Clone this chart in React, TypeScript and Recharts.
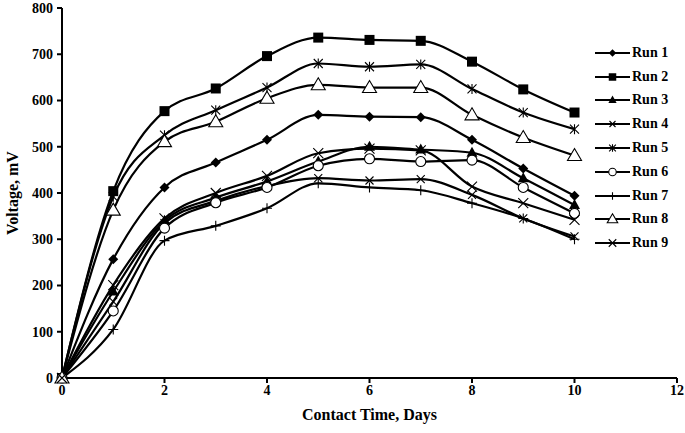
import React from "react";
import { LineChart, Line, XAxis, YAxis } from "recharts";

// Contact time (days) and measured voltage (mV) per run
const days = [0, 1, 2, 3, 4, 5, 6, 7, 8, 9, 10];
const run1 = [0, 257, 412, 466, 515, 569, 565, 564, 515, 453, 394];
const run2 = [0, 404, 577, 626, 696, 736, 731, 729, 684, 624, 574];
const run3 = [0, 187, 340, 390, 425, 468, 500, 494, 487, 432, 374];
const run4 = [0, 165, 335, 383, 415, 432, 427, 430, 396, 345, 306];
const run5 = [0, 392, 525, 579, 628, 680, 673, 678, 625, 574, 538];
const run6 = [0, 145, 324, 379, 412, 459, 474, 468, 471, 412, 356];
const run7 = [0, 105, 297, 329, 367, 421, 412, 406, 378, 345, 300];
const run8 = [0, 363, 511, 554, 605, 634, 628, 628, 569, 520, 481];
const run9 = [0, 201, 345, 400, 437, 486, 496, 492, 414, 378, 342];

const xTicks = [0, 2, 4, 6, 8, 10, 12];
const yTicks = [0, 100, 200, 300, 400, 500, 600, 700, 800];

type Shape =
  | "diamond"
  | "square"
  | "triangle"
  | "cross"
  | "star"
  | "circle"
  | "plus"
  | "openTriangle"
  | "x";

const runs: { key: string; name: string; values: number[]; shape: Shape }[] = [
  { key: "r1", name: "Run 1", values: run1, shape: "diamond" },
  { key: "r2", name: "Run 2", values: run2, shape: "square" },
  { key: "r3", name: "Run 3", values: run3, shape: "triangle" },
  { key: "r4", name: "Run 4", values: run4, shape: "cross" },
  { key: "r5", name: "Run 5", values: run5, shape: "star" },
  { key: "r6", name: "Run 6", values: run6, shape: "circle" },
  { key: "r7", name: "Run 7", values: run7, shape: "plus" },
  { key: "r8", name: "Run 8", values: run8, shape: "openTriangle" },
  { key: "r9", name: "Run 9", values: run9, shape: "x" },
];

const data = days.map((d, i) => {
  const row: Record<string, number> = { day: d };
  runs.forEach((r) => (row[r.key] = r.values[i]));
  return row;
});

const FONT = "'Liberation Serif', 'Times New Roman', serif";

function Marker({ shape, cx, cy, s = 1 }: { shape: Shape; cx: number; cy: number; s?: number }) {
  if (cx == null || cy == null) return null;
  const k = (v: number) => v * s;
  switch (shape) {
    case "diamond":
      return <path d={`M${cx},${cy - k(5)}L${cx + k(5)},${cy}L${cx},${cy + k(5)}L${cx - k(5)},${cy}Z`} fill="#000" />;
    case "square":
      return <rect x={cx - k(5)} y={cy - k(5)} width={k(10)} height={k(10)} fill="#000" />;
    case "triangle":
      return <path d={`M${cx},${cy - k(6)}L${cx + k(5.5)},${cy + k(4)}L${cx - k(5.5)},${cy + k(4)}Z`} fill="#000" />;
    case "cross":
      return (
        <path d={`M${cx - k(4)},${cy - k(4)}L${cx + k(4)},${cy + k(4)}M${cx + k(4)},${cy - k(4)}L${cx - k(4)},${cy + k(4)}`} stroke="#000" strokeWidth={1.1} />
      );
    case "star":
      return (
        <path
          d={`M${cx - k(4.5)},${cy - k(4.5)}L${cx + k(4.5)},${cy + k(4.5)}M${cx + k(4.5)},${cy - k(4.5)}L${cx - k(4.5)},${cy + k(4.5)}M${cx},${cy - k(5)}L${cx},${cy + k(5)}`}
          stroke="#000"
          strokeWidth={1.1}
        />
      );
    case "circle":
      return <circle cx={cx} cy={cy} r={k(5)} fill="#fff" stroke="#000" strokeWidth={1.1} />;
    case "plus":
      return <path d={`M${cx - k(5)},${cy}L${cx + k(5)},${cy}M${cx},${cy - k(5)}L${cx},${cy + k(5)}`} stroke="#000" strokeWidth={1.1} />;
    case "openTriangle":
      return (
        <path d={`M${cx},${cy - k(7)}L${cx + k(7)},${cy + k(5)}L${cx - k(7)},${cy + k(5)}Z`} fill="#fff" stroke="#000" strokeWidth={1.1} />
      );
    case "x":
      return (
        <path d={`M${cx - k(5)},${cy - k(5)}L${cx + k(5)},${cy + k(5)}M${cx + k(5)},${cy - k(5)}L${cx - k(5)},${cy + k(5)}`} stroke="#000" strokeWidth={1.1} />
      );
  }
  return null;
}

function RunLegend() {
  return (
    <div
      style={{
        position: "absolute",
        left: 595,
        top: 41,
        fontFamily: FONT,
        fontWeight: "bold",
        fontSize: 14,
        lineHeight: "16px",
      }}
    >
      {runs.map((r) => (
        <div key={r.key} style={{ display: "flex", alignItems: "center", height: 23.8 }}>
          <svg width={35} height={16} style={{ display: "block" }}>
            <line x1={0} y1={8} x2={35} y2={8} stroke="#000" strokeWidth={2} />
            <Marker shape={r.shape} cx={17.5} cy={8} s={0.75} />
          </svg>
          <span style={{ marginLeft: 2 }}>{r.name}</span>
        </div>
      ))}
    </div>
  );
}

export default function App() {
  return (
    <div style={{ position: "relative", width: 685, height: 433, background: "#fff" }}>
      <style>{`body{margin:0}`}</style>
      <LineChart width={685} height={433} data={data} margin={{ top: 8, right: 8, left: 0, bottom: 10 }}>
        <XAxis
          dataKey="day"
          type="number"
          domain={[0, 12]}
          ticks={xTicks}
          interval={0}
          height={45}
          axisLine={{ stroke: "#000", strokeWidth: 2 }}
          tickLine={{ stroke: "#000", strokeWidth: 2 }}
          tickSize={5}
          tick={{ fill: "#000", fontSize: 14, fontWeight: "bold", fontFamily: FONT }}
          label={{
            value: "Contact Time, Days",
            position: "insideBottom",
            offset: 3,
            style: { fill: "#000", fontSize: 16, fontWeight: "bold", fontFamily: FONT },
          }}
        />
        <YAxis
          type="number"
          domain={[0, 800]}
          ticks={yTicks}
          interval={0}
          width={62}
          axisLine={{ stroke: "#000", strokeWidth: 2 }}
          tickLine={{ stroke: "#000", strokeWidth: 2 }}
          tickSize={5}
          tickMargin={4}
          tick={{ fill: "#000", fontSize: 14, fontWeight: "bold", fontFamily: FONT }}
          label={{
            value: "Voltage, mV",
            angle: -90,
            position: "insideLeft",
            offset: 12,
            style: { fill: "#000", fontSize: 16, fontWeight: "bold", fontFamily: FONT, textAnchor: "middle" },
          }}
        />
        {runs.map((r) => (
          <Line
            key={r.key}
            dataKey={r.key}
            name={r.name}
            type="monotone"
            stroke="#000"
            strokeWidth={2.2}
            isAnimationActive={false}
            dot={(p: any) => <Marker key={`${r.key}-${p.index}`} shape={r.shape} cx={p.cx} cy={p.cy} />}
            activeDot={false}
          />
        ))}
      </LineChart>
      <RunLegend />
    </div>
  );
}
